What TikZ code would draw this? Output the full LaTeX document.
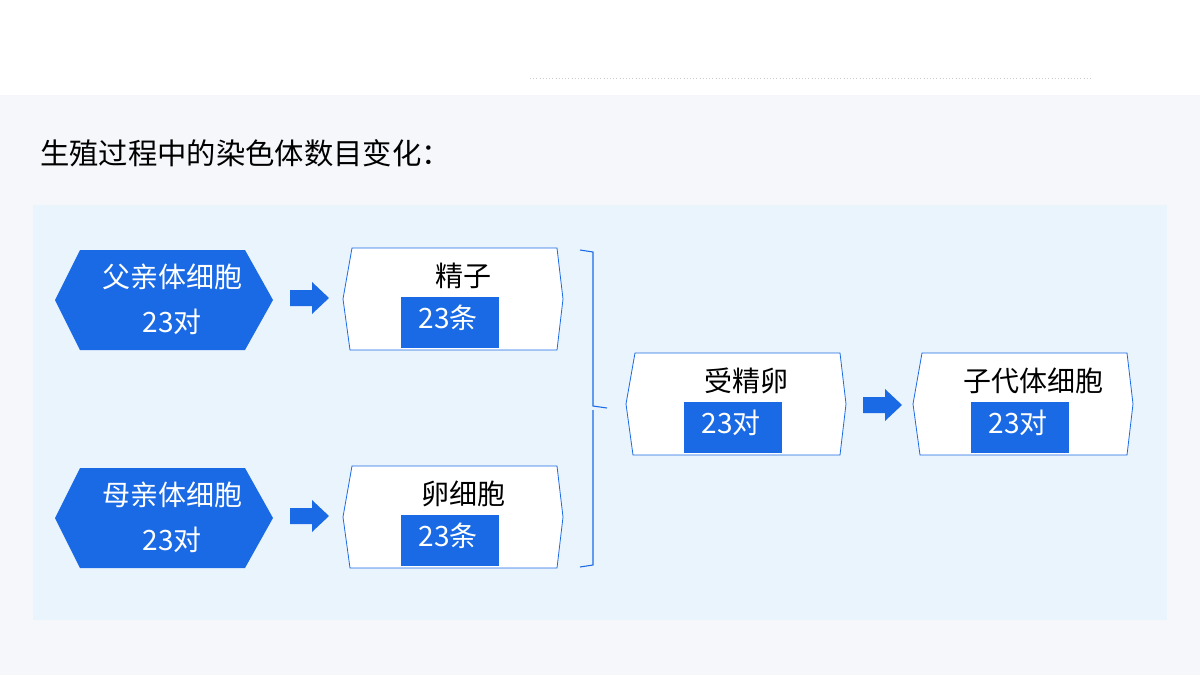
\documentclass[tikz,border=0pt]{standalone}
\usepackage{fontspec}
\setmainfont{Noto Sans CJK SC}
\begin{document}
\begin{tikzpicture}[x=0.75pt,y=-0.75pt,
 hexa/.style={fill=myblue,draw=none},
 wbox/.style={fill=white,draw=myblue,line width=0.6pt},
 lab/.style={font=\fontsize{21}{21}\selectfont,inner sep=0pt},
 wlab/.style={lab,text=white},
 rectb/.style={fill=myblue,draw=none},
 barrow/.style={fill=myblue,draw=none}]
\definecolor{myblue}{HTML}{1A6AE6}
\definecolor{bg}{HTML}{F5F7FB}
\definecolor{panel}{HTML}{EAF4FD}
\useasboundingbox (0,0) rectangle (1200,675);
\fill[bg] (0,0) rectangle (1200,675);
\fill[white] (0,0) rectangle (1200,95);
\draw[gray!40,dotted] (530,78) -- (1093,78);
\node[anchor=west,font=\fontsize{22}{22}\selectfont,inner sep=0pt] (title) at (40,153) {生殖过程中的染色体数目变化：};
\fill[panel] (33,205) rectangle (1167,620);
% hexagons
\foreach \n/\y/\t in {f/300/父亲体细胞, m/518/母亲体细胞}{
 \fill[myblue] (55,\y) -- (80,\y-50) -- (245,\y-50) -- (273,\y) -- (245,\y+50) -- (80,\y+50) -- cycle;
 \node[wlab] (\n a) at (172,\y-23) {\t};
 \node[wlab] (\n b) at (172,\y+22) {23对};
}
% block arrows
\foreach \n/\x/\y in {a1/290/298, a2/290/516, a3/863/405}{
 \coordinate (\n) at (\x,\y);
 \fill[myblue] (\x,\y-8) -- (\x+22,\y-8) -- (\x+22,\y-16) -- (\x+39,\y) -- (\x+22,\y+16) -- (\x+22,\y+8) -- (\x,\y+8) -- cycle;
}
% white boxes
\foreach \n/\x/\y/\t/\s in {s/345/248/精子/23条, e/345/466/卵细胞/23条, z/628/353/受精卵/23对, c/915/353/子代体细胞/23对}{
 \draw[wbox] (\x+7,\y) -- (\x+212,\y) -- (\x+218,\y+51) -- (\x+212,\y+102) -- (\x+5,\y+102) -- (\x-2,\y+51) -- cycle;
 \node[lab] (\n t) at (\x+118,\y+28) {\t};
 \fill[myblue] (\x+56,\y+49) rectangle (\x+154,\y+100);
 \node[wlab] (\n n) at (\x+103,\y+70) {\s};
}
% bracket
\draw[myblue,line width=0.8pt] (580,250) -- (593,252) -- (593,406) -- (607,408) (593,410) -- (593,565) -- (580,567);
\end{tikzpicture}
\end{document}
